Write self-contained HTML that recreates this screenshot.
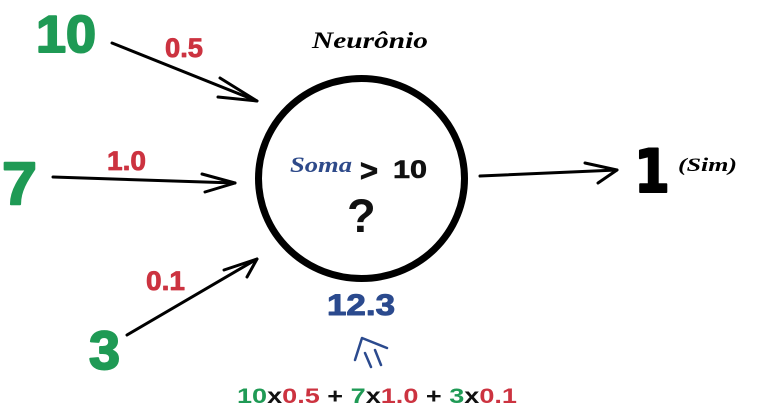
<!DOCTYPE html>
<html>
<head>
<meta charset="utf-8">
<style>
  html, body { margin:0; padding:0; background:#fff; }
  svg { display:block; }
</style>
</head>
<body>
<svg width="768" height="411" viewBox="0 0 768 411" xmlns="http://www.w3.org/2000/svg">
  <rect width="768" height="411" fill="#fff"/>

  <!-- Title -->
  <text x="312" y="48" font-family="Liberation Serif, serif" font-weight="bold" font-style="italic" font-size="23" fill="#000" textLength="116" lengthAdjust="spacingAndGlyphs">Neurônio</text>

  <!-- Neuron circle -->
  <ellipse cx="361.5" cy="178.5" rx="103" ry="100" fill="none" stroke="#000" stroke-width="7"/>

  <!-- Inside -->
  <text x="290" y="172" font-family="Liberation Serif, serif" font-weight="bold" font-style="italic" font-size="22" fill="#2e4a8a" textLength="62" lengthAdjust="spacingAndGlyphs">Soma</text>
  <text x="360" y="181" font-family="Liberation Sans, sans-serif" font-weight="bold" font-size="31" fill="#111" stroke="#111" stroke-width="0.8" textLength="18" lengthAdjust="spacingAndGlyphs">&gt;</text>
  <text x="393" y="178" font-family="Liberation Sans, sans-serif" font-weight="bold" font-size="25" fill="#111" stroke="#111" stroke-width="0.6" textLength="34" lengthAdjust="spacingAndGlyphs">10</text>
  <text x="347" y="232" font-family="Liberation Sans, sans-serif" font-weight="bold" font-size="47" fill="#111">?</text>

  <!-- Inputs -->
  <g font-family="Liberation Sans, sans-serif" font-weight="bold" fill="#1f9a55" stroke="#1f9a55" stroke-width="2" stroke-linejoin="round">
    <text x="36" y="52" font-size="52" textLength="60" lengthAdjust="spacingAndGlyphs">10</text>
    <text x="2" y="204" font-size="60" textLength="35" lengthAdjust="spacingAndGlyphs">7</text>
    <text x="89" y="369" font-size="54" textLength="31" lengthAdjust="spacingAndGlyphs">3</text>
  </g>

  <!-- Weights -->
  <g font-family="Liberation Sans, sans-serif" font-weight="bold" font-size="27" fill="#cc3340" stroke="#cc3340" stroke-width="0.8" stroke-linejoin="round">
    <text x="165" y="57" textLength="38" lengthAdjust="spacingAndGlyphs">0.5</text>
    <text x="107" y="170" textLength="39" lengthAdjust="spacingAndGlyphs">1.0</text>
    <text x="146" y="290" textLength="39" lengthAdjust="spacingAndGlyphs">0.1</text>
  </g>

  <!-- Arrows -->
  <g fill="none" stroke="#000" stroke-width="3" stroke-linecap="round" stroke-linejoin="round">
    <path d="M112,43 L257,101"/>
    <path d="M220,78 L257,101 L218,97"/>
    <path d="M53,177 L235,183"/>
    <path d="M202,174 L235,183 L205,192"/>
    <path d="M127,335 L257,259"/>
    <path d="M224,270 L257,259 L247,277"/>
    <path d="M480,176 L617,170"/>
    <path d="M585,163 L617,170 L598,183"/>
  </g>

  <!-- Output -->
  <text x="634" y="192" font-family="DejaVu Sans, sans-serif" font-weight="bold" font-size="60" fill="#000" stroke="#000" stroke-width="2" stroke-linejoin="round" textLength="36" lengthAdjust="spacingAndGlyphs">1</text>
  <text x="678" y="171" font-family="Liberation Serif, serif" font-weight="bold" font-style="italic" font-size="19" fill="#000" textLength="59" lengthAdjust="spacingAndGlyphs">(Sim)</text>

  <!-- Sum -->
  <text x="327" y="315" font-family="Liberation Sans, sans-serif" font-weight="bold" font-size="30" fill="#2b4a8e" stroke="#2b4a8e" stroke-width="1" stroke-linejoin="round" textLength="68" lengthAdjust="spacingAndGlyphs">12.3</text>

  <!-- small up arrow -->
  <g fill="none" stroke="#2b4a8e" stroke-width="2.5" stroke-linecap="round" stroke-linejoin="round">
    <path d="M355,360 L362,338 L387,348"/>
    <path d="M365,353 L371,367"/>
    <path d="M375,350 L381,365"/>
  </g>

  <!-- Formula -->
  <text x="237" y="403" font-family="Liberation Sans, sans-serif" font-weight="bold" font-size="21" textLength="280" lengthAdjust="spacingAndGlyphs"><tspan fill="#1f9a55">10</tspan><tspan fill="#111">x</tspan><tspan fill="#cc3340">0.5</tspan><tspan fill="#111"> + </tspan><tspan fill="#1f9a55">7</tspan><tspan fill="#111">x</tspan><tspan fill="#cc3340">1.0</tspan><tspan fill="#111"> + </tspan><tspan fill="#1f9a55">3</tspan><tspan fill="#111">x</tspan><tspan fill="#cc3340">0.1</tspan></text>
</svg>
</body>
</html>
